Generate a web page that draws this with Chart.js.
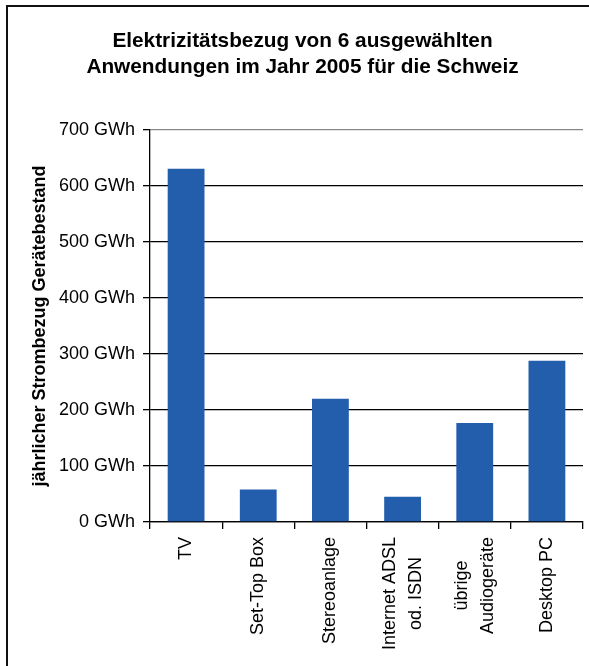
<!DOCTYPE html>
<html lang="de">
<head>
<meta charset="utf-8">
<title>Elektrizitätsbezug Schweiz 2005</title>
<script src="https://cdn.jsdelivr.net/npm/chart.js@4/dist/chart.umd.min.js"></script>
<style>
    html, body { margin: 0; padding: 0; background: #fff; overflow: hidden; }
    #wrap { position: absolute; left: 0; top: 0; width: 589px; height: 666px; }
    #frame { position: absolute; left: 6px; top: 5px; width: 620px; height: 680px;
             border-left: 2px solid #111; border-top: 2px solid #111; pointer-events: none; }
</style>
</head>
<body>
<div id="wrap"><canvas id="chart" width="589" height="666"></canvas></div>
<div id="frame"></div>
<script>
// Daten
const categories = ['TV', 'Set-Top Box', 'Stereoanlage', ['Internet ADSL', 'od. ISDN'], ['übrige', 'Audiogeräte'], 'Desktop PC'];
const consumption = [631, 58, 220, 45, 177, 288];
const yTicks = [0, 100, 200, 300, 400, 500, 600, 700];
const titleLines = ['Elektrizitätsbezug von 6 ausgewählten', 'Anwendungen im Jahr 2005 für die Schweiz'];
const yTitle = 'jährlicher Strombezug Gerätebestand';

const FONT = "'Liberation Sans', Arial, sans-serif";
const BAR = '#235EAC';

// Kategorie-Beschriftungen: gedreht, Zeilen zentriert
const xLabelPlugin = {
    id: 'xLabels',
    afterDraw(chart) {
        const { ctx, scales: { x } } = chart;
        const size = 18, lh = 26;
        ctx.save();
        ctx.font = size + 'px ' + FONT;
        ctx.fillStyle = '#000';
        ctx.textAlign = 'center';
        ctx.textBaseline = 'middle';
        categories.forEach((label, i) => {
            const lines = Array.isArray(label) ? label : [label];
            const maxW = Math.max(...lines.map(l => ctx.measureText(l).width));
            ctx.save();
            ctx.translate(x.getPixelForValue(i), x.top + 15);
            ctx.rotate(-Math.PI / 2);
            lines.forEach((line, j) => {
                ctx.fillText(line, -maxW / 2, (j - (lines.length - 1) / 2) * lh);
            });
            ctx.restore();
        });
        ctx.restore();
    }
};

createChart();

function createChart() {
    const ctx = document.getElementById('chart').getContext('2d');
    return new Chart(ctx, {
        type: 'bar',
        data: {
            labels: categories,
            datasets: [{
                data: consumption,
                backgroundColor: BAR,
                borderWidth: 0,
                barPercentage: 0.51,
                categoryPercentage: 1
            }]
        },
        options: {
            responsive: false,
            animation: false,
            events: [],
            // linker Rand so, dass der Titel wie im Original bei x≈302 zentriert ist
            layout: { padding: { left: 22, right: 6, top: 0, bottom: 0 } },
            plugins: {
                legend: { display: false },
                tooltip: { enabled: false },
                title: {
                    display: true,
                    text: titleLines,
                    color: '#000',
                    font: { family: FONT, size: 20.8, weight: 'bold', lineHeight: 1.25 },
                    padding: { top: 28, bottom: 50 }
                }
            },
            scales: {
                x: {
                    grid: {
                        offset: true,
                        drawOnChartArea: true,
                        color: c => c.index === categories.length ? '#888' : 'transparent',
                        tickColor: '#000',
                        tickLength: 7,
                        lineWidth: 1.3
                    },
                    border: { color: '#000', width: 1.3 },
                    ticks: { display: false },
                    afterFit(scale) { scale.height = 144; }
                },
                y: {
                    min: 0,
                    max: 700,
                    afterBuildTicks(scale) { scale.ticks = yTicks.map(v => ({ value: v })); },
                    grid: {
                        color: c => c.index === yTicks.length - 1 ? '#888' : '#000',
                        tickColor: '#000',
                        tickLength: 7,
                        lineWidth: 1.3
                    },
                    border: { color: '#000', width: 1.3 },
                    ticks: {
                        color: '#000',
                        padding: 8,
                        font: { family: FONT, size: 18 },
                        callback: v => v + ' GWh'
                    },
                    title: {
                        display: true,
                        text: yTitle,
                        color: '#000',
                        font: { family: FONT, size: 18, weight: 'bold' },
                        padding: { top: 7, bottom: 0 }
                    },
                    afterFit(scale) { scale.width = 128; }
                }
            }
        },
        plugins: [xLabelPlugin]
    });
}
</script>
</body>
</html>
